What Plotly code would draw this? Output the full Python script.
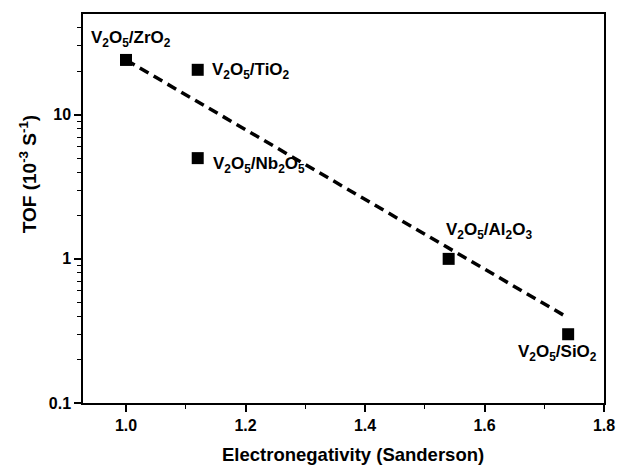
import numpy as np
import plotly.graph_objects as go

# Data
supports = ["ZrO2", "TiO2", "Nb2O5", "Al2O3", "SiO2"]
labels = [
    "V<sub>2</sub>O<sub>5</sub>/ZrO<sub>2</sub>",
    "V<sub>2</sub>O<sub>5</sub>/TiO<sub>2</sub>",
    "V<sub>2</sub>O<sub>5</sub>/Nb<sub>2</sub>O<sub>5</sub>",
    "V<sub>2</sub>O<sub>5</sub>/Al<sub>2</sub>O<sub>3</sub>",
    "V<sub>2</sub>O<sub>5</sub>/SiO<sub>2</sub>",
]
electroneg = [1.00, 1.12, 1.12, 1.54, 1.74]
tof = [24.0, 20.5, 5.0, 1.0, 0.30]

fit_x = [1.00, 1.74]
fit_y = [24.0, 0.39]

x_ticks = [1.0, 1.2, 1.4, 1.6, 1.8]
y_ticks = [0.1, 1, 10]

FONT = "Liberation Sans, Arial, sans-serif"

fig = go.Figure()
fig.add_trace(go.Scatter(
    x=fit_x, y=fit_y, mode="lines",
    line=dict(color="black", width=3.5, dash="10px,6px"),
    showlegend=False, hoverinfo="skip",
))
fig.add_trace(go.Scatter(
    x=electroneg, y=tof, mode="markers",
    marker=dict(symbol="square", size=12, color="black"),
    showlegend=False,
))

# label offsets (pixels): xshift, yshift, xanchor
offsets = [
    (5, 21, "center"),
    (12, -1, "left"),
    (13, -7, "left"),
    (40, 28, "center"),
    (-11, -19, "center"),
]
for xv, yv, lab, (dx, dy, xa) in zip(electroneg, tof, labels, offsets):
    fig.add_annotation(
        x=xv, y=np.log10(yv), text="<b>" + lab + "</b>", showarrow=False,
        xshift=dx, yshift=dy, xanchor=xa, yanchor="middle",
        font=dict(family=FONT, size=17, color="black"),
    )

# axis titles as annotations for exact placement
fig.add_annotation(
    xref="paper", yref="paper", x=-0.1057, y=0.588,
    text="<b>TOF (10<sup>-3</sup> S<sup>-1</sup>)</b>", textangle=-90,
    showarrow=False, xanchor="center", yanchor="middle",
    font=dict(family=FONT, size=19, color="black"),
)
fig.add_annotation(
    xref="paper", yref="paper", x=0.518, y=-0.133,
    text="<b>Electronegativity (Sanderson)</b>",
    showarrow=False, xanchor="center", yanchor="middle",
    font=dict(family=FONT, size=18.5, color="black"),
)

fig.update_layout(
    width=627, height=468,
    margin=dict(l=83, r=14, t=12, b=65),
    plot_bgcolor="white", paper_bgcolor="white",
    font=dict(family=FONT, color="black"),
)
fig.update_xaxes(
    range=[0.928, 1.8], tickvals=x_ticks,
    ticktext=["<b>%.1f</b>" % v for v in x_ticks],
    ticks="outside", ticklen=7, tickwidth=1.5, tickcolor="black",
    showline=True, linecolor="black", linewidth=1.5, mirror=True,
    showgrid=False, zeroline=False,
    minor=dict(ticks="outside", ticklen=4, tickwidth=1.2, tickcolor="black", tickvals=[1.1, 1.3, 1.5, 1.7], showgrid=False),
    tickfont=dict(size=16, family=FONT),
)
fig.update_yaxes(
    type="log", range=[-1, np.log10(50)],
    tickvals=y_ticks, ticktext=["<b>%g</b>" % v for v in y_ticks],
    ticks="outside", ticklen=7, tickwidth=1.5, tickcolor="black",
    showline=True, linecolor="black", linewidth=1.5, mirror=True,
    showgrid=False, zeroline=False,
    minor=dict(ticks="outside", ticklen=4, tickwidth=1.2, tickcolor="black",
               tickvals=[0.2, 0.3, 0.4, 0.5, 0.6, 0.7, 0.8, 0.9, 2, 3, 4, 5, 6, 7, 8, 9, 20, 30, 40],
               showgrid=False),
    tickfont=dict(size=16, family=FONT),
)

fig.write_html("out.html")
